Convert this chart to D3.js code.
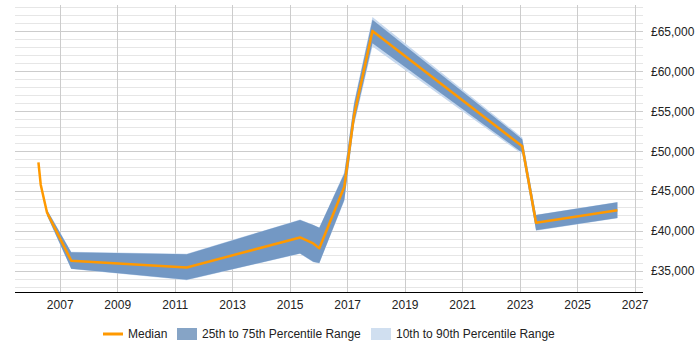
<!DOCTYPE html>
<html>
<head>
<meta charset="utf-8">
<script src="https://cdn.jsdelivr.net/npm/d3@7"></script>
<style>
  body { margin: 0; background: #fff; }
  svg { display: block; font-family: 'Liberation Sans', Arial, sans-serif; }
</style>
</head>
<body>
<svg id="chart" width="700" height="350"></svg>
<script>
// decimal years of each sample
const years  = [2006.26, 2006.34, 2006.56, 2007.40, 2011.42, 2015.36, 2015.82, 2016.03, 2016.90, 2017.24, 2017.88, 2023.09, 2023.57, 2026.40];
const median = [48600, 45800, 42300, 36300, 35450, 39200, 38450, 37850, 45550, 54500, 65050, 50600, 41050, 42600];
const p75    = [null, null, 42650, 37350, 37100, 41400, 40750, 40400, 47200, 55900, 66450, 51500, 42000, 43600];
const p25    = [null, null, 41950, 35300, 33900, 37200, 36150, 36000, 43900, 53500, 63500, 49800, 40100, 41650];
const p90    = [null, null, 42700, 37400, 37150, 41450, 40800, 40450, 47350, 56150, 66800, 51700, 42050, 43650];
const p10    = [null, null, 41900, 35250, 33850, 37150, 36100, 35950, 43750, 53250, 63100, 49600, 40050, 41600];

const tickYears = [2007, 2009, 2011, 2013, 2015, 2017, 2019, 2021, 2023, 2025, 2027];
const tickSalaries = [35000, 40000, 45000, 50000, 55000, 60000, 65000];
const legendLabels = ['Median', '25th to 75th Percentile Range', '10th to 90th Percentile Range'];

function drawSalaryChart(){
  const left = 15, right = 643, top = 5, bottom = 292;

  const x = d3.scaleLinear()
              .domain([2005.445, 2027.29])
              .range([left, right]);

  const y = d3.scaleLinear()
              .domain([32375, 68290])
              .range([bottom, top]);

  const svg = d3.select('svg#chart');

  const rows = years.map((yr, i) => ({
    yr: yr, med: median[i], q25: p25[i], q75: p75[i], q10: p10[i], q90: p90[i]
  }));

  // minor grid every 1000, major every 5000
  const minor = d3.range(33000, 68001, 1000).filter(v => v % 5000 != 0);
  svg.append('g')
    .selectAll('line')
    .data(minor)
    .enter()
    .append('line')
      .attr('x1', left).attr('x2', right)
      .attr('y1', d => Math.round(y(d)) + 0.5)
      .attr('y2', d => Math.round(y(d)) + 0.5)
      .style('stroke', '#e6e6e6');

  svg.append('g')
    .selectAll('line')
    .data(tickSalaries)
    .enter()
    .append('line')
      .attr('x1', left).attr('x2', right)
      .attr('y1', d => Math.round(y(d)) + 0.5)
      .attr('y2', d => Math.round(y(d)) + 0.5)
      .style('stroke', '#cccccc');

  svg.append('g')
    .selectAll('line')
    .data(tickYears)
    .enter()
    .append('line')
      .attr('x1', d => Math.round(x(d)) + 0.5)
      .attr('x2', d => Math.round(x(d)) + 0.5)
      .attr('y1', top).attr('y2', bottom)
      .style('stroke', '#cccccc');

  // percentile bands
  const band = (lo, hi) => d3.area()
    .defined(d => d[lo] != null)
    .x(d => x(d.yr))
    .y0(d => y(d[lo]))
    .y1(d => y(d[hi]));

  svg.append('path')
    .datum(rows)
    .attr('d', band('q10', 'q90'))
    .style('fill', '#c6d8ee');

  svg.append('path')
    .datum(rows)
    .attr('d', band('q25', 'q75'))
    .style('fill', '#7398c4');

  svg.append('path')
    .datum(rows)
    .attr('d', d3.line().x(d => x(d.yr)).y(d => y(d.med)))
    .style('fill', 'none')
    .style('stroke', '#ff9900')
    .style('stroke-width', 2.5)
    .style('stroke-linejoin', 'round');

  // axes
  const xAxis = svg.append('g')
    .attr('transform', `translate(0, ${bottom})`)
    .call(d3.axisBottom(x).tickValues(tickYears).tickFormat(d3.format('d')).tickSize(0).tickPadding(8));
  xAxis.select('.domain').attr('d', `M${left},0.5H${right}`).style('stroke', '#000');
  xAxis.selectAll('text').style('font-size', '12px').style('fill', '#222').style('font-family', "'Liberation Sans', Arial, sans-serif");

  const yAxis = svg.append('g')
    .attr('transform', `translate(${right}, 0)`)
    .call(d3.axisRight(y).tickValues(tickSalaries).tickFormat(d => '£' + d3.format(',')(d)).tickSize(0).tickPadding(8));
  yAxis.select('.domain').remove();
  yAxis.selectAll('text').style('font-size', '12px').style('fill', '#222').style('font-family', "'Liberation Sans', Arial, sans-serif");

  // legend
  const legend = svg.append('g').attr('transform', 'translate(0, 334)');
  legend.append('line')
    .attr('x1', 103).attr('x2', 123).attr('y1', 0).attr('y2', 0)
    .style('stroke', '#ff9900').style('stroke-width', 3);
  legend.append('rect')
    .attr('x', 177).attr('y', -6).attr('width', 20).attr('height', 12)
    .style('fill', '#86a4c6');
  legend.append('rect')
    .attr('x', 371).attr('y', -6).attr('width', 20).attr('height', 12)
    .style('fill', '#d0dff0');

  legend.selectAll('text')
    .data(legendLabels)
    .enter()
    .append('text')
      .attr('x', (d, i) => [128, 202, 396][i])
      .attr('dy', '0.35em')
      .text(d => d)
      .style('font-size', '12px')
      .style('fill', '#222');
}

drawSalaryChart();
</script>
</body>
</html>
